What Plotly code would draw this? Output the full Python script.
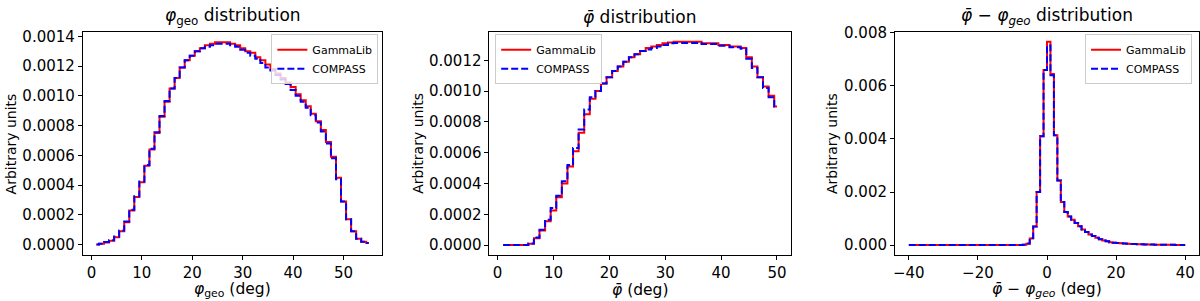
import plotly.graph_objects as go

# ---------------- data ----------------
# Panel 1: phi_geo distribution (points at integer degrees, drawn as mid steps)
phi_geo_x = list(range(1, 56))
phi_geo_gammalib = [
    0.0, 0.000005, 0.000015, 0.000026, 0.00005, 0.00009, 0.00015, 0.00023, 0.00032, 0.00042,
    0.00053, 0.00064, 0.00075, 0.00086, 0.00096, 0.00105, 0.00112, 0.00119, 0.00124, 0.00127,
    0.00130, 0.00132, 0.00134, 0.00135, 0.00136, 0.00136, 0.00136, 0.00135, 0.00134, 0.00132,
    0.00130, 0.00129, 0.00126, 0.00124, 0.00121, 0.00118, 0.00115, 0.00112, 0.00109, 0.00106,
    0.00101, 0.00097, 0.00093, 0.00088, 0.00083, 0.00077, 0.00069, 0.00059, 0.00045, 0.00029,
    0.00017, 0.00009, 0.00004, 0.00002, 0.00001,
]
phi_geo_compass = [
    0.0, 0.000006, 0.000017, 0.000029, 0.000055, 0.000095, 0.000155, 0.000235, 0.000325, 0.000425,
    0.000535, 0.000645, 0.000755, 0.000865, 0.000965, 0.00105, 0.00112, 0.00119, 0.00124, 0.00127,
    0.00130, 0.00132, 0.00133, 0.00134, 0.00135, 0.00135, 0.00135, 0.00134, 0.00133, 0.00131,
    0.00129, 0.00127, 0.00125, 0.00122, 0.00119, 0.00117, 0.00114, 0.00111, 0.00108, 0.00104,
    0.00100, 0.00096, 0.00092, 0.00087, 0.00082, 0.00076, 0.00068, 0.00058, 0.00044, 0.00029,
    0.00017, 0.00009, 0.00004, 0.00002, 0.00001,
]

# Panel 2: phi-bar distribution
phibar_x = list(range(1, 51))
phibar_gammalib = [
    0.0, 0.0, 0.0, 0.0, 0.0, 0.000008, 0.000045, 0.000095, 0.000155, 0.000225,
    0.00031, 0.00040, 0.00051, 0.00061, 0.00073, 0.00085, 0.00095, 0.00100, 0.00105, 0.00109,
    0.00113, 0.00116, 0.00119, 0.00122, 0.00124, 0.00126, 0.00128, 0.00129, 0.00130, 0.00131,
    0.001315, 0.00132, 0.00132, 0.00132, 0.00132, 0.00132, 0.00131, 0.00131, 0.00131, 0.00130,
    0.00130, 0.00129, 0.00129, 0.00128, 0.00122, 0.00116, 0.00109, 0.00103, 0.00097, 0.00090,
]
phibar_compass = [
    0.0, 0.0, 0.0, 0.0, 0.0, 0.00001, 0.00005, 0.0001, 0.000165, 0.00024,
    0.00032, 0.000415, 0.00052, 0.00063, 0.00075, 0.00088, 0.00096, 0.00100, 0.00105, 0.00109,
    0.00113, 0.00116, 0.00119, 0.00122, 0.00124, 0.00126, 0.00127, 0.00128, 0.00129, 0.00130,
    0.00131, 0.001312, 0.001312, 0.001312, 0.001312, 0.001312, 0.001305, 0.001305, 0.001305, 0.001295,
    0.001295, 0.001285, 0.001285, 0.001275, 0.00121, 0.00115, 0.00109, 0.00102, 0.00096, 0.00090,
]

# Panel 3: phi-bar minus phi_geo distribution (1 deg bins from -40 to 40)
dphi_edges = list(range(-40, 41))
dphi_gammalib = [0.0] * 33 + [
    0.00001, 0.00005, 0.00025, 0.0007, 0.0020, 0.0041, 0.0066, 0.00766, 0.00645, 0.00414,
    0.00243, 0.00162, 0.00125, 0.00108, 0.00095, 0.00083, 0.00071, 0.00059, 0.00049, 0.00040,
    0.00034, 0.00028, 0.00022, 0.00017, 0.00014, 0.00011, 0.00009, 0.00008, 0.00007, 0.00006,
    0.00005, 0.000045, 0.00004, 0.000035, 0.00003, 0.000025, 0.000022, 0.00002, 0.000017, 0.000015,
    0.000013, 0.000011, 0.00001, 0.000008, 0.000007, 0.000006, 0.000005,
]
dphi_compass = [0.0] * 33 + [
    0.00001, 0.00006, 0.00027, 0.0007, 0.0020, 0.0041, 0.0066, 0.00752, 0.00640, 0.00414,
    0.00243, 0.00162, 0.00125, 0.00108, 0.00095, 0.00083, 0.00071, 0.00059, 0.00049, 0.00040,
    0.00034, 0.00028, 0.00022, 0.00017, 0.00014, 0.00011, 0.00009, 0.00008, 0.00007, 0.00006,
    0.00005, 0.000045, 0.00004, 0.000035, 0.00003, 0.000025, 0.000022, 0.00002, 0.000017, 0.000015,
    0.000013, 0.000011, 0.00001, 0.000008, 0.000007, 0.000006, 0.000005,
]

y1_ticks = [0.0, 0.0002, 0.0004, 0.0006, 0.0008, 0.0010, 0.0012, 0.0014]
y2_ticks = [0.0, 0.0002, 0.0004, 0.0006, 0.0008, 0.0010, 0.0012]
y3_ticks = [0.0, 0.002, 0.004, 0.006, 0.008]
x1_ticks = [0, 10, 20, 30, 40, 50]
x2_ticks = [0, 10, 20, 30, 40, 50]
x3_ticks = [-40, -20, 0, 20, 40]

PHI_GEO = "<i>φ</i><sub>geo</sub>"
PHI_BAR = "<i>φ\u0304</i>"
PHI_DIFF = "<i>φ\u0304</i> − <i>φ<sub>geo</sub></i>"
titles = [PHI_GEO + " distribution", PHI_BAR + " distribution", PHI_DIFF + " distribution"]
xlabels = [PHI_GEO + " (deg)", PHI_BAR + " (deg)", PHI_DIFF + " (deg)"]

# ---------------- geometry (page pixels) ----------------
W, H = 1200, 301
FONT = "DejaVu Sans"
RED = "#ff0000"
BLUE = "#0000ff"
top_px, bot_px = 24.3, 254.0
xdom_px = [(81, 381), (488.3, 790), (894.5, 1199)]


def fx(p):
    return p / W


def fy(p):
    return 1 - p / H


fig = go.Figure()

series = [
    (phi_geo_x, phi_geo_gammalib, phi_geo_compass, "x", "y", "legend"),
    (phibar_x, phibar_gammalib, phibar_compass, "x2", "y2", "legend2"),
]
for xs, g, c, xa, ya, lg in series:
    fig.add_trace(go.Scatter(x=xs, y=g, mode="lines", name="GammaLib",
                             line=dict(color=RED, width=2, shape="hvh"),
                             xaxis=xa, yaxis=ya, legend=lg))
    fig.add_trace(go.Scatter(x=xs, y=c, mode="lines", name="COMPASS",
                             line=dict(color=BLUE, width=2, shape="hvh", dash="7px,3px"),
                             xaxis=xa, yaxis=ya, legend=lg))

fig.add_trace(go.Scatter(x=dphi_edges, y=dphi_gammalib + [dphi_gammalib[-1]], mode="lines", name="GammaLib",
                         line=dict(color=RED, width=2, shape="hv"), xaxis="x3", yaxis="y3", legend="legend3"))
fig.add_trace(go.Scatter(x=dphi_edges, y=dphi_compass + [dphi_compass[-1]], mode="lines", name="COMPASS",
                         line=dict(color=BLUE, width=2, shape="hv", dash="7px,3px"),
                         xaxis="x3", yaxis="y3", legend="legend3"))

axis_common = dict(showline=True, mirror=True, linecolor="black", linewidth=1, ticks="outside", ticklen=4,
                   tickcolor="black", tickwidth=1, showgrid=False, zeroline=False,
                   tickfont=dict(family=FONT, size=15, color="black"))

ydom = [fy(bot_px), fy(top_px)]
x_ranges = [[-1.7, 57.7], [-1.45, 52.45], [-44, 44]]
y_ranges = [[-0.0000715, 0.0014315], [-0.000066, 0.001386], [-0.000383, 0.008043]]
x_ticks = [x1_ticks, x2_ticks, x3_ticks]
y_ticks = [y1_ticks, y2_ticks, y3_ticks]
y_fmt = [".4f", ".4f", ".3f"]

layout_axes = {}
for i in range(3):
    sfx = "" if i == 0 else str(i + 1)
    layout_axes["xaxis" + sfx] = dict(axis_common, domain=[fx(xdom_px[i][0]), fx(xdom_px[i][1])],
                                      range=x_ranges[i], tickvals=x_ticks[i], anchor="y" + sfx)
    layout_axes["yaxis" + sfx] = dict(axis_common, domain=ydom, range=y_ranges[i], tickvals=y_ticks[i],
                                      tickformat=y_fmt[i], anchor="x" + sfx)

legend_common = dict(bgcolor="rgba(255,255,255,0.8)", bordercolor="#cccccc", borderwidth=1,
                     font=dict(family=FONT, size=11, color="black"), yanchor="top", y=fy(27),
                     itemwidth=30, tracegroupgap=0)

fig.update_layout(
    width=W, height=H,
    margin=dict(l=0, r=0, t=0, b=0),
    paper_bgcolor="white", plot_bgcolor="white",
    font=dict(family=FONT, color="black"),
    legend=dict(legend_common, x=fx(377), xanchor="right"),
    legend2=dict(legend_common, x=fx(494), xanchor="left"),
    legend3=dict(legend_common, x=fx(1192), xanchor="right"),
    **layout_axes,
)

annotations = []
ylabel_x = [9, 417, 832]
for i in range(3):
    cx = (xdom_px[i][0] + xdom_px[i][1]) / 2
    annotations.append(dict(text=titles[i], x=fx(cx), y=fy(9), xref="paper", yref="paper", showarrow=False,
                            xanchor="center", yanchor="middle", font=dict(family=FONT, size=17, color="black")))
    annotations.append(dict(text=xlabels[i], x=fx(cx), y=fy(290), xref="paper", yref="paper", showarrow=False,
                            xanchor="center", yanchor="middle", font=dict(family=FONT, size=15.5, color="black")))
    annotations.append(dict(text="Arbitrary units", x=fx(ylabel_x[i]), y=fy((top_px + bot_px) / 2),
                            xref="paper", yref="paper", showarrow=False, textangle=-90,
                            xanchor="center", yanchor="middle", font=dict(family=FONT, size=14, color="black")))
fig.update_layout(annotations=annotations)

# the page body normally has an 8px margin; remove it so the figure sits at the window's corner
fig.write_html("out.html",
               config={"displayModeBar": False},
               post_script="document.body.style.margin='0px';document.body.style.overflow='hidden';")
